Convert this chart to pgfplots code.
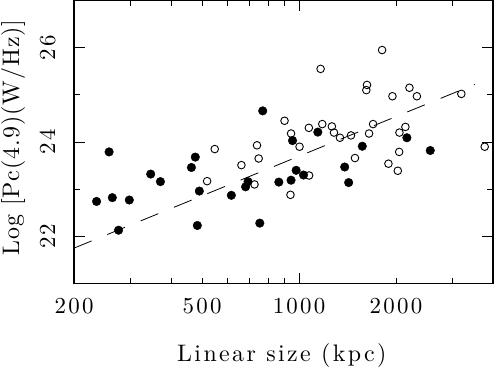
\documentclass[border=0pt]{standalone}
\usepackage{pgfplots}
\pgfplotsset{compat=1.18}
\usepackage{fontspec}
\newfontfamily\widefam{lmroman10-regular.otf}[LetterSpace=10]
\newfontfamily\ylabfam{lmroman10-regular.otf}[LetterSpace=4]
\newcommand{\tickfont}{\fontsize{23}{27}\widefam}
\newcommand{\xlabfont}{\fontsize{24}{28}\widefam}
\newcommand{\ylabfont}{\fontsize{24}{28}\ylabfam}

\begin{document}
\begin{tikzpicture}
\begin{axis}[
    scale only axis, width=419bp, height=283bp,
    xmode=log, xmin=200, xmax=4000, ymin=21, ymax=27,
    axis line style={line width=1.1bp},
    tick style={black, line width=0.8bp},
    tick align=inside,
    major tick length=6bp, minor tick length=6bp,
    xtick={200,500,1000,2000}, xticklabels={200,500,1000,2000},
    minor xtick={300,400,600,700,800,900,3000},
    ytick={22,24,26}, minor ytick={23,25},
    extra x ticks={1000}, extra x tick labels={},
    extra y ticks={22,24,26}, extra y tick labels={},
    extra tick style={major tick length=11bp},
    /pgf/number format/assume math mode=true,
    xticklabel style={font=\tickfont, anchor=base, yshift=-29.5bp},
    yticklabel style={font=\tickfont, rotate=90, anchor=base},
    yticklabel shift=19bp,
    xlabel={Linear size (kpc)},
    ylabel={Log [Pc(4.9)(W/Hz)]},
    xlabel style={font=\xlabfont, at={(axis description cs:0.496,-0.254)}, anchor=center},
    ylabel style={font=\ylabfont, at={(axis description cs:-0.145,0.516)}, anchor=center},
]

% fit
\addplot[black, line width=0.8bp, dash pattern=on 19bp off 17bp] coordinates {(200,21.75) (3508,25.22)};

% filled
\addplot[only marks, mark=*, mark size=4.3bp, black] coordinates {
(235,22.74) (257,23.79) (263,22.82) (275,22.13) (297,22.77)
(346,23.32) (371,23.16) (463,23.46) (476,23.68) (490,22.96)
(483,22.23) (616,22.87) (682,23.05) (694,23.16) (755,22.28)
(771,24.66) (865,23.15) (944,23.19) (954,24.03) (979,23.40)
(1032,23.30) (1143,24.21) (1385,23.47) (1425,23.14) (1571,23.91)
(2161,24.09) (2554,23.82)
};

% open
\addplot[only marks, mark=o, mark size=3.8bp, black, mark options={line width=0.9bp}] coordinates {
(547,23.85) (518,23.17) (662,23.51) (727,23.10) (740,23.93)
(749,23.65) (901,24.45) (944,24.18) (940,22.88) (1003,23.90)
(1072,24.30) (1074,23.29) (1166,25.55) (1180,24.38) (1264,24.33)
(1283,24.20) (1339,24.09) (1449,24.14) (1491,23.66) (1617,25.10)
(1625,25.21) (1649,24.18) (1697,24.38) (1810,25.95) (1894,23.54)
(1949,24.97) (2025,23.39) (2045,23.79) (2049,24.20) (2138,24.32)
(2201,25.15) (2321,24.97) (3190,25.02) (3770,23.90)
};
\end{axis}
\pgfresetboundingbox
\path ([shift={(-74bp,-85bp)}]current axis.south west) rectangle ([shift={(1bp,0.5bp)}]current axis.north east);
\end{tikzpicture}
\end{document}
